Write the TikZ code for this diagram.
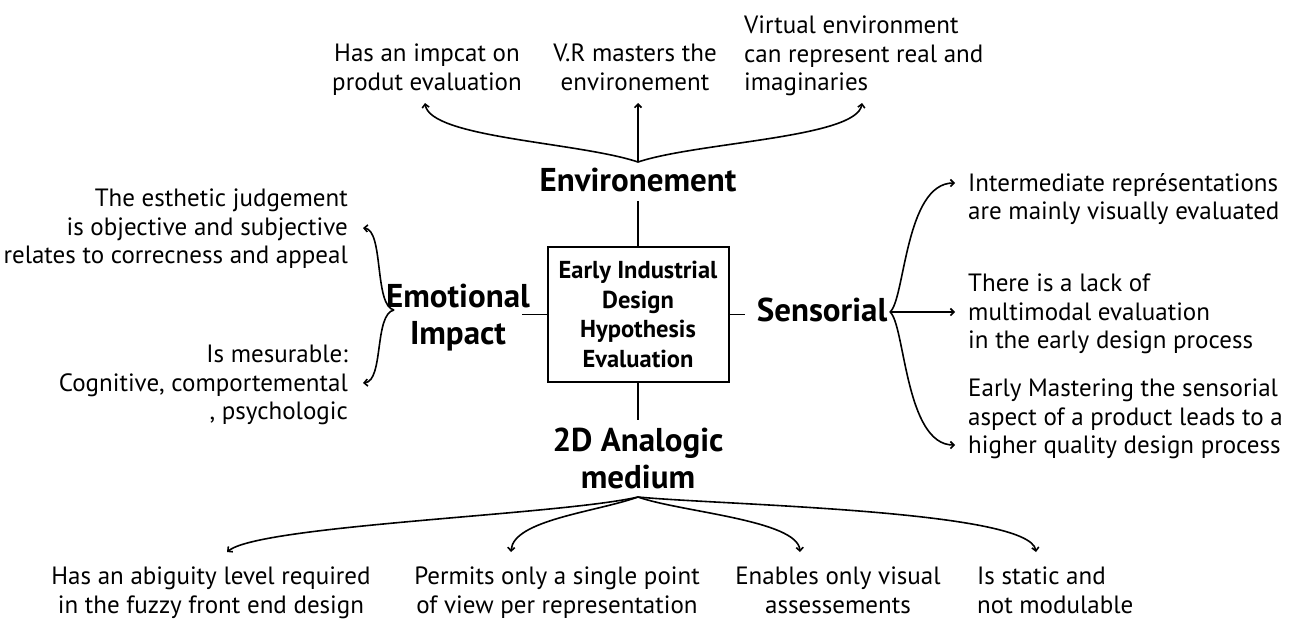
\documentclass[tikz,border=0pt]{standalone}
\usepackage{fontspec}
\setmainfont{PT Sans}
\usetikzlibrary{arrows.meta}

\begin{document}
\begin{tikzpicture}[x=1pt,y=-1pt] % координаты в пикселях, ось y вниз
\tikzstyle{hub}=[draw, line width=2pt, minimum width=181pt, minimum height=135pt, inner sep=0pt, align=center, font=\bfseries\fontsize{24.5}{29.5}\selectfont] % центральный блок
\tikzstyle{topic}=[inner sep=0pt, align=center, font=\bfseries\fontsize{33}{37}\selectfont] % заголовки ветвей
\tikzstyle{note}=[inner sep=0pt, font=\fontsize{25}{28.5}\selectfont] % пояснения
\tikzstyle{link}=[line width=1.6pt] % линии от блока
\tikzstyle{brace}=[line width=1.6pt, -{Straight Barb[length=3.5pt,width=7pt]}] % стрелки-скобки
\useasboundingbox (0,0) rectangle (1290,619);

\node[hub] (hyp) at (638,314.5) {Early Industrial\\Design\\Hypothesis\\Evaluation};
\node[topic, anchor=north] (env) at (638,167.5) {Environement};
\node[topic, anchor=north] (emo) at (458,283.5) {Emotional\\Impact};
\node[topic, anchor=north] (sens) at (822,297.5) {Sensorial};
\node[topic, anchor=north] (ana) at (638,428) {2D Analogic\\medium};

% пояснения
\node[note, align=center, anchor=north] (t1) at (427,44) {Has an impcat on\\produt evaluation};
\node[note, align=center, anchor=north] (t2) at (635,44) {V.R masters the\\environement};
\node[note, align=left, anchor=north west] (t3) at (744,16) {Virtual environment\\can represent real and\\imaginaries};
\node[note, align=right, anchor=north east] (l1) at (348,189) {The esthetic judgement\\is objective and subjective\\relates to correcness and appeal};
\node[note, align=right, anchor=north east] (l2) at (348,345) {Is mesurable:\\Cognitive, comportemental\\, psychologic};
\node[note, align=left, anchor=north west] (r1) at (968,173) {Intermediate représentations\\are mainly visually evaluated};
\node[note, align=left, anchor=north west] (r2) at (968,274) {There is a lack of\\multimodal evaluation\\in the early design process};
\node[note, align=left, anchor=north west] (r3) at (968,379) {Early Mastering the sensorial\\aspect of a product leads to a\\higher quality design process};
\node[note, align=center, anchor=north] (b1) at (211,567) {Has an abiguity level required\\in the fuzzy front end design};
\node[note, align=center, anchor=north] (b2) at (557,567) {Permits only a single point\\of view per representation};
\node[note, align=center, anchor=north] (b3) at (838,567) {Enables only visual\\assessements};
\node[note, align=left, anchor=north west] (b4) at (977,567) {Is static and\\not modulable};

% линии от центрального блока
\draw[link, shorten <=9pt] (env.south) -- (hyp.north);
\draw[link, shorten >=-8.5pt] (hyp.west) -- (hyp.west -| emo.east);
\draw[link, shorten >=11.5pt] (hyp.east) -- (hyp.east -| sens.west);
\draw[link, shorten >=8pt] (hyp.south) -- (ana.north);

% точки ветвления и концы стрелок
\coordinate (envfork) at (638,162);
\coordinate (emofork) at (394,310);
\coordinate (sensfork) at (890,312);
\coordinate (anafork) at (638,497);
\coordinate (t1tip) at (425,103);
\coordinate (t2tip) at (638,103);
\coordinate (t3tip) at (862,103);
\coordinate (l1tip) at (363,228);
\coordinate (l2tip) at (363,383);
\coordinate (r1tip) at (955,183);
\coordinate (r2tip) at (955,312);
\coordinate (r3tip) at (955,445);
\coordinate (b1tip) at (227,552);
\coordinate (b2tip) at (511,552);
\coordinate (b3tip) at (800,552);
\coordinate (b4tip) at (1036,552);

\draw[brace] (envfork) .. controls (578,142) and (430,138) .. (t1tip);
\draw[brace] (envfork) -- (t2tip);
\draw[brace] (envfork) .. controls (698,142) and (857,138) .. (t3tip);
\draw[brace] (emofork) .. controls (374,306) and (384,230) .. (l1tip);
\draw[brace] (emofork) .. controls (374,314) and (384,381) .. (l2tip);
\draw[brace] (sensfork) .. controls (905,300) and (905,183) .. (r1tip);
\draw[brace] (sensfork) -- (r2tip);
\draw[brace] (sensfork) .. controls (905,324) and (905,445) .. (r3tip);
\draw[brace] (anafork) .. controls (560,515) and (260,525) .. (b1tip);
\draw[brace] (anafork) .. controls (596,512) and (513,520) .. (b2tip);
\draw[brace] (anafork) .. controls (680,512) and (798,520) .. (b3tip);
\draw[brace] (anafork) .. controls (720,505) and (1030,510) .. (b4tip);
\end{tikzpicture}
\end{document}
